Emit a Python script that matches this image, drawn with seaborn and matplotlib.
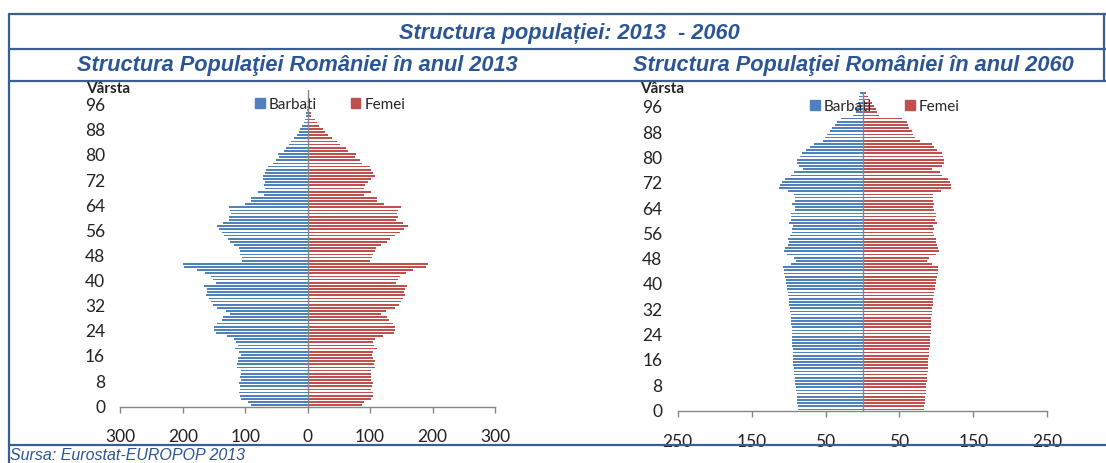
import numpy as np
import pandas as pd
import matplotlib
matplotlib.use('Agg')
import matplotlib.pyplot as plt
from matplotlib.lines import Line2D
from matplotlib.patches import Patch
import seaborn as sns

# date: populatia pe varste (mii persoane)
ages = list(range(101))

barbati_2013 = [90.8, 95.1, 106.3, 108.4, 109.5, 109.0, 109.0, 109.5, 107.4, 107.9,
                106.3, 107.4, 113.2, 112.7, 112.2, 111.6, 107.4, 110.6, 115.9, 111.6,
                114.9, 117.5, 129.8, 147.4, 150.1, 150.1, 145.8, 137.3, 135.7, 124.5,
                130.9, 144.8, 151.7, 155.4, 158.1, 162.4, 160.8, 160.8, 166.1, 147.4,
                151.7, 154.4, 164.0, 177.4, 198.2, 200.3, 105.2, 105.8, 109.0, 108.4,
                110.0, 117.5, 124.5, 127.7, 133.5, 137.3, 141.6, 145.8, 136.2, 126.6,
                126.6, 122.9, 123.9, 125.5, 100.4, 90.8, 90.3, 70.5, 79.6, 68.9,
                69.4, 68.9, 71.6, 71.6, 68.9, 66.8, 63.6, 55.6, 51.3, 45.4,
                47.0, 37.9, 34.7, 29.9, 26.7, 21.4, 17.1, 14.4, 12.3, 9.1,
                6.4, 4.8, 2.1, 2.1, 0.5, 0.3, 0.2, 0.1, 0.1, 0.0, 0.0]
femei_2013 = [87.1, 89.7, 101.0, 104.2, 104.2, 102.0, 103.1, 104.2, 102.0, 102.0,
              101.0, 102.0, 107.9, 106.8, 107.9, 105.2, 103.1, 105.2, 110.6, 106.3,
              105.2, 108.4, 120.2, 137.8, 140.0, 139.4, 136.2, 129.8, 126.6, 117.5,
              125.0, 139.4, 146.4, 149.6, 152.2, 155.4, 154.4, 155.4, 158.7, 141.0,
              144.8, 148.0, 157.6, 169.3, 189.6, 192.3, 99.9, 102.6, 105.2, 107.9,
              109.5, 117.0, 126.6, 131.9, 140.5, 147.4, 154.4, 160.8, 152.2, 141.6,
              144.8, 143.2, 144.2, 149.0, 122.3, 110.6, 111.6, 89.7, 102.0, 90.8,
              92.4, 96.7, 101.0, 107.9, 104.2, 101.0, 99.9, 87.1, 83.9, 75.9,
              76.9, 65.2, 61.4, 51.8, 46.5, 39.0, 33.1, 27.2, 24.0, 18.2,
              14.4, 11.8, 5.9, 5.9, 1.6, 0.8, 0.5, 0.3, 0.2, 0.1, 0.0]
barbati_2060 = [87.4, 87.8, 88.3, 88.3, 89.2, 89.2, 90.1, 90.5, 91.0, 91.4,
                91.9, 92.3, 92.8, 93.2, 93.7, 93.7, 93.7, 94.1, 94.1, 94.6,
                95.0, 95.5, 95.9, 95.9, 95.9, 95.5, 95.9, 96.4, 96.8, 96.8,
                97.3, 97.7, 98.6, 99.1, 99.1, 100.0, 100.9, 101.4, 101.8, 102.7,
                103.6, 104.1, 104.5, 105.9, 106.3, 107.2, 96.8, 89.6, 92.3, 102.3,
                105.9, 104.5, 100.9, 100.0, 101.4, 98.2, 95.9, 95.5, 94.6, 99.5,
                96.8, 96.8, 96.8, 91.0, 91.9, 95.0, 91.9, 91.9, 92.3, 101.4,
                112.6, 111.3, 108.6, 105.0, 96.4, 92.8, 81.1, 85.6, 88.3, 89.2,
                84.7, 81.5, 76.6, 70.7, 65.8, 53.6, 50.5, 48.6, 44.1, 41.0,
                36.9, 35.1, 29.7, 12.6, 9.0, 9.0, 7.2, 5.9, 5.4, 4.5, 3.6]
femei_2060 = [82.9, 83.8, 84.2, 84.2, 84.7, 85.6, 86.0, 86.5, 86.5, 86.9,
              87.4, 87.8, 88.3, 88.3, 88.7, 89.2, 89.2, 89.6, 90.1, 90.5,
              91.0, 91.4, 91.9, 91.9, 92.3, 92.3, 92.8, 92.8, 93.2, 93.2,
              93.7, 94.1, 94.6, 95.0, 95.5, 95.9, 96.4, 96.8, 97.7, 98.6,
              99.5, 100.0, 100.5, 101.8, 102.3, 102.7, 94.6, 87.4, 89.6, 100.0,
              103.6, 102.3, 100.5, 100.0, 100.0, 97.3, 95.9, 96.4, 95.5, 100.5,
              98.6, 100.0, 100.0, 96.8, 95.5, 97.3, 95.9, 95.5, 95.5, 106.8,
              120.3, 119.4, 118.9, 115.8, 108.1, 104.5, 94.1, 108.1, 109.9, 110.4,
              109.0, 107.7, 100.9, 97.3, 94.6, 77.5, 71.2, 68.5, 67.6, 63.1,
              61.7, 60.8, 53.6, 22.5, 19.8, 18.9, 15.8, 12.2, 9.9, 7.7, 5.4]

y_ticks = list(range(0, 97, 8))
x_ticks_2013 = [-300, -200, -100, 0, 100, 200, 300]
x_labels_2013 = ['300', '200', '100', '0', '100', '200', '300']
x_ticks_2060 = [-250, -150, -50, 50, 150, 250]
x_labels_2060 = ['250', '150', '50', '50', '150', '250']

titlu = 'Structura populației: 2013  - 2060'
subtitlu_2013 = 'Structura Populaţiei României în anul 2013'
subtitlu_2060 = 'Structura Populaţiei României în anul 2060'
sursa = 'Sursa: Eurostat-EUROPOP 2013'

albastru = '#4F81BD'
rosu = '#C0504D'
text_albastru = '#2C5595'
linie = '#3A5E8E'
gri = '#868686'

sns.set_theme(style='white')
plt.rcParams['font.family'] = ['Lato', 'DejaVu Sans']

W, H = 1106, 464
fig = plt.figure(figsize=(W / 100, H / 100), dpi=100)


def fx(x):
    return x / W


def fy(y):
    return 1 - y / H


def piramida(ax, barbati, femei, xlim, xticks, xlabels, ybottom, x_varsta):
    df = pd.DataFrame({'varsta': ages,
                       'barbati': -np.array(barbati),
                       'femei': np.array(femei)})
    sns.barplot(data=df, x='barbati', y='varsta', orient='y', native_scale=True,
                width=0.55, color=albastru, saturation=1, errorbar=None,
                linewidth=0, ax=ax)
    sns.barplot(data=df, x='femei', y='varsta', orient='y', native_scale=True,
                width=0.55, color=rosu, saturation=1, errorbar=None,
                linewidth=0, ax=ax)
    ax.set_xlim(*xlim)
    ax.set_ylim(ybottom, 100.5)
    ax.axvline(0, color=gri, lw=1.0, zorder=6)
    ax.set_xticks(xticks)
    ax.set_xticklabels(xlabels)
    ax.set_yticks(y_ticks)
    ax.set_yticklabels([str(v) for v in y_ticks])
    ax.set_xlabel('')
    ax.set_ylabel('')
    for s in ['top', 'right', 'left']:
        ax.spines[s].set_visible(False)
    ax.spines['bottom'].set_color(gri)
    ax.spines['bottom'].set_linewidth(1.0)
    ax.tick_params(axis='x', length=4.5, width=1, color=gri, direction='out',
                   bottom=True, pad=11, labelsize=12.5, labelcolor='#222222')
    ax.tick_params(axis='y', length=0, pad=11, labelsize=12.5, labelcolor='#222222')
    ax.set_facecolor('none')
    handles = [Patch(color=albastru, label='Barbati'), Patch(color=rosu, label='Femei')]
    leg = ax.legend(handles=handles, loc='upper center', bbox_to_anchor=(0.56, 1.0),
                    ncol=2, frameon=False, fontsize=11, handlelength=0.65,
                    handleheight=0.65, handletextpad=0.25, columnspacing=2.2,
                    borderaxespad=0.1)
    leg.set_zorder(3)
    fig.text(fx(x_varsta), fy(89), 'Vârsta', fontsize=11,
             fontweight='bold', ha='left', va='center', color='#222222')


ax1 = fig.add_axes([fx(120.3), fy(407.7), fx(495 - 120.3), (407.7 - 90.6) / H])
piramida(ax1, barbati_2013, femei_2013, (-300, 300), x_ticks_2013, x_labels_2013, -0.5, 86)

ax2 = fig.add_axes([fx(677.7), fy(412.3), fx(1047.3 - 677.7), (412.3 - 92.7) / H])
piramida(ax2, barbati_2060, femei_2060, (-250, 250), x_ticks_2060, x_labels_2060, -0.6, 640)

# chenarul tabelului
for y in [15, 50, 82, 446]:
    fig.add_artist(Line2D([fx(9), fx(1106)], [fy(y), fy(y)], color=linie, lw=1.6))
fig.add_artist(Line2D([fx(9), fx(9)], [fy(15), fy(464)], color=linie, lw=1.6))
fig.add_artist(Line2D([fx(1104), fx(1104)], [fy(15), fy(82)], color=linie, lw=1.6))

font_titlu = ['Liberation Sans', 'DejaVu Sans']
fig.text(fx(569), fy(33), titlu, ha='center', va='center', fontsize=15.7,
         fontweight='bold', style='italic', color=text_albastru, family=font_titlu)
fig.text(fx(297), fy(66), subtitlu_2013, ha='center', va='center', fontsize=15.7,
         fontweight='bold', style='italic', color=text_albastru, family=font_titlu)
fig.text(fx(853), fy(66), subtitlu_2060, ha='center', va='center', fontsize=15.7,
         fontweight='bold', style='italic', color=text_albastru, family=font_titlu)
fig.text(fx(10), fy(456), sursa, ha='left', va='center', fontsize=11.5,
         style='italic', color=text_albastru, family=font_titlu)

plt.savefig('out.png', dpi=100)
